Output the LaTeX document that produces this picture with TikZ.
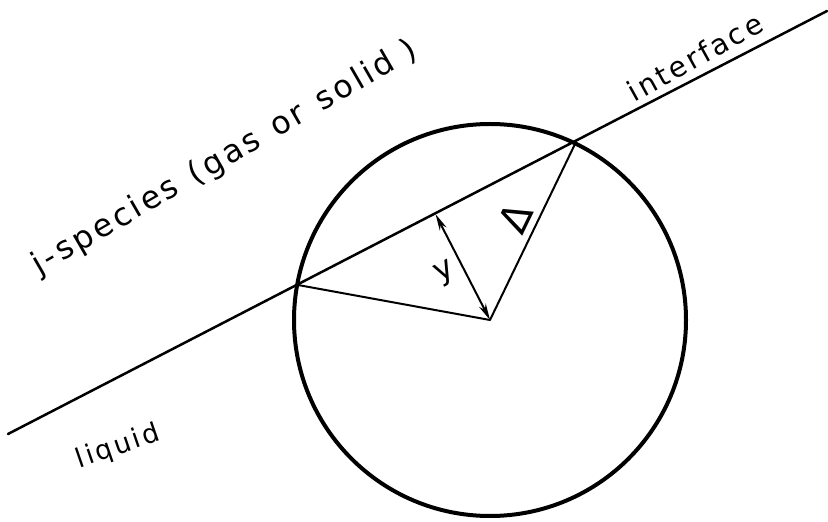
\documentclass[tikz,border=0pt]{standalone}
\usepackage{fontspec}
\newfontfamily\lettering{DejaVu Sans}[LetterSpace=10]
\usetikzlibrary{calc,arrows.meta}

\begin{document}
\begin{tikzpicture}[x=0.6pt, y=-0.6pt,
    lettering/.style={font=\lettering\fontsize{16}{19}\selectfont, inner sep=0pt},
    big lettering/.style={font=\lettering\fontsize{19}{22}\selectfont, inner sep=0pt},
    thin line/.style={line width=1.2pt, line cap=round, line join=round}
]
    \useasboundingbox (0,0) rectangle (828,522);

    % interface and sphere
    \coordinate (L1) at (8,434);
    \coordinate (L2) at (827,11);
    \coordinate (O) at (490,320);
    \coordinate (A) at (298,285);
    \coordinate (B) at (576,142);
    \coordinate (F) at ($(A)!(O)!(B)$);

    \draw[line width=1.5pt, line cap=round] (L1) -- (L2);
    \draw[line width=2.4pt] (O) circle[radius=196];
    \draw[thin line] (A) -- (O) -- (B);
    \draw[thin line, {Stealth[length=10pt,width=4.5pt]}-{Stealth[length=10pt,width=4.5pt]}] (F) -- (O);

    % texts
    \node[big lettering, rotate=30] (species) at (225,158) {j-species \hspace{2pt}(gas \hspace{2pt}or \hspace{2pt}solid )};
    \node[lettering, font=\lettering\fontsize{17}{20}\selectfont, rotate=29] (interface) at (695,57) {interface};
    \node[lettering, rotate=19] (liquid) at (118,447) {liquid};
    \node[big lettering, rotate=27] (ylab) at (445,273) {y};
    \node[lettering, font=\lettering\fontsize{24}{28}\selectfont, rotate=64] (delta) at (515,218) {Δ};
\end{tikzpicture}
\end{document}
